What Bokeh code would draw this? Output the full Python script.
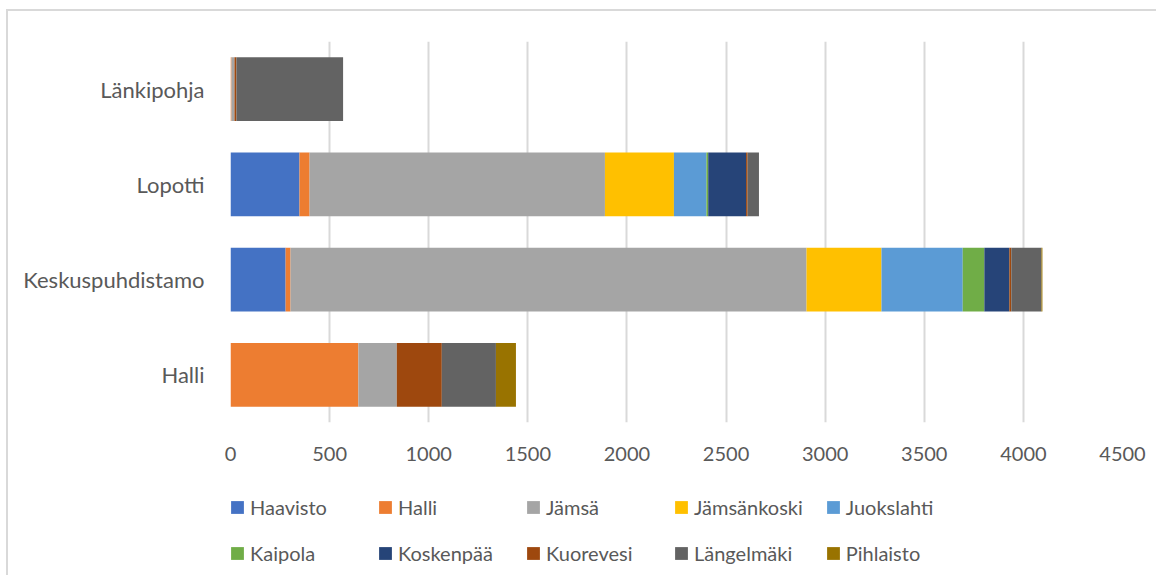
from bokeh.plotting import figure
from bokeh.models import (Range1d, FactorRange, FixedTicker, Legend, LegendItem,
                          ColumnDataSource)
from bokeh.layouts import column
from bokeh.embed import file_html
from bokeh.resources import INLINE

# ---- data ----
categories = ["Halli", "Keskuspuhdistamo", "Lopotti", "Länkipohja"]
series_names = ["Haavisto", "Halli", "Jämsä", "Jämsänkoski", "Juokslahti",
                "Kaipola", "Koskenpää", "Kuorevesi", "Längelmäki", "Pihlaisto"]
haavisto    = [0, 278, 348, 0]
halli       = [645, 25, 51, 5]
jamsa       = [194, 2603, 1490, 15]
jamsankoski = [0, 378, 348, 0]
juokslahti  = [0, 410, 164, 0]
kaipola     = [0, 109, 9, 0]
koskenpaa   = [0, 126, 191, 0]
kuorevesi   = [227, 10, 8, 10]
langelmaki  = [273, 152, 57, 538]
pihlaisto   = [101, 5, 0, 0]
x_ticks = [0, 500, 1000, 1500, 2000, 2500, 3000, 3500, 4000, 4500]

colors = ["#4472C4", "#ED7D31", "#A5A5A5", "#FFC000", "#5B9BD5",
          "#70AD47", "#264478", "#9E480E", "#636363", "#997300"]

values = [haavisto, halli, jamsa, jamsankoski, juokslahti,
          kaipola, koskenpaa, kuorevesi, langelmaki, pihlaisto]
keys = ["s%d" % i for i in range(len(series_names))]
data = {"cat": categories}
for k, v in zip(keys, values):
    data[k] = v
source = ColumnDataSource(data)

FONT = "Lato"
TXT = "#595959"
BORDER = "2px solid #d9d9d9"

# ---- main chart ----
p = figure(width=1150, height=471, output_backend="svg", toolbar_location=None,
           y_range=FactorRange(factors=categories), x_range=Range1d(0, 4500),
           min_border_left=222, min_border_right=36, min_border_top=30,
           min_border_bottom=60)
p.outline_line_color = None
p.margin = (9, 0, 0, 6)
p.styles = {"border-top": BORDER, "border-left": BORDER}

p.hbar_stack(keys, y="cat", height=0.67, color=colors,
             line_color=None, source=source)

p.ygrid.grid_line_color = None
p.xgrid.grid_line_color = "#d9d9d9"
p.xgrid.grid_line_width = 2
p.xaxis.ticker = FixedTicker(ticks=x_ticks)

for ax in (p.xaxis[0], p.yaxis[0]):
    ax.axis_line_color = None
    ax.major_tick_line_color = None
    ax.minor_tick_line_color = None
    ax.major_tick_out = 0
    ax.major_tick_in = 0
    ax.minor_tick_out = 0
    ax.minor_tick_in = 0
    ax.major_label_text_font = FONT
    ax.major_label_text_color = TXT
p.xaxis.major_label_text_font_size = "20px"
p.yaxis.major_label_text_font_size = "22px"
p.yaxis.major_label_standoff = 26
p.xaxis.major_label_standoff = 24

# ---- legend strip (same series with zero-height bars; only the legend shows) ----
lf = figure(width=1150, height=95, output_backend="svg", toolbar_location=None,
            y_range=FactorRange(factors=categories), x_range=Range1d(0, 4500),
            x_axis_location=None, y_axis_location=None,
            min_border_left=0, min_border_right=0, min_border_top=0,
            min_border_bottom=0)
lf.outline_line_color = None
lf.grid.grid_line_color = None
lf.margin = (0, 0, 0, 6)
lf.styles = {"border-left": BORDER}
lrs = lf.hbar_stack(keys, y="cat", height=0, color=colors,
                    line_color=None, source=source)

legend = Legend(items=[LegendItem(label=n, renderers=[r])
                       for n, r in zip(series_names, lrs)],
                location=(-1, 10), orientation="horizontal", ncols=5,
                padding=0, margin=0, spacing=22,
                glyph_width=16, glyph_height=16, label_standoff=5,
                label_width=105, label_height=24,
                label_text_font=FONT, label_text_font_size="20px",
                label_text_color=TXT, border_line_color=None,
                background_fill_alpha=0)
lf.add_layout(legend, "center")

open("out.html", "w").write(file_html(column(p, lf, spacing=0), INLINE))
